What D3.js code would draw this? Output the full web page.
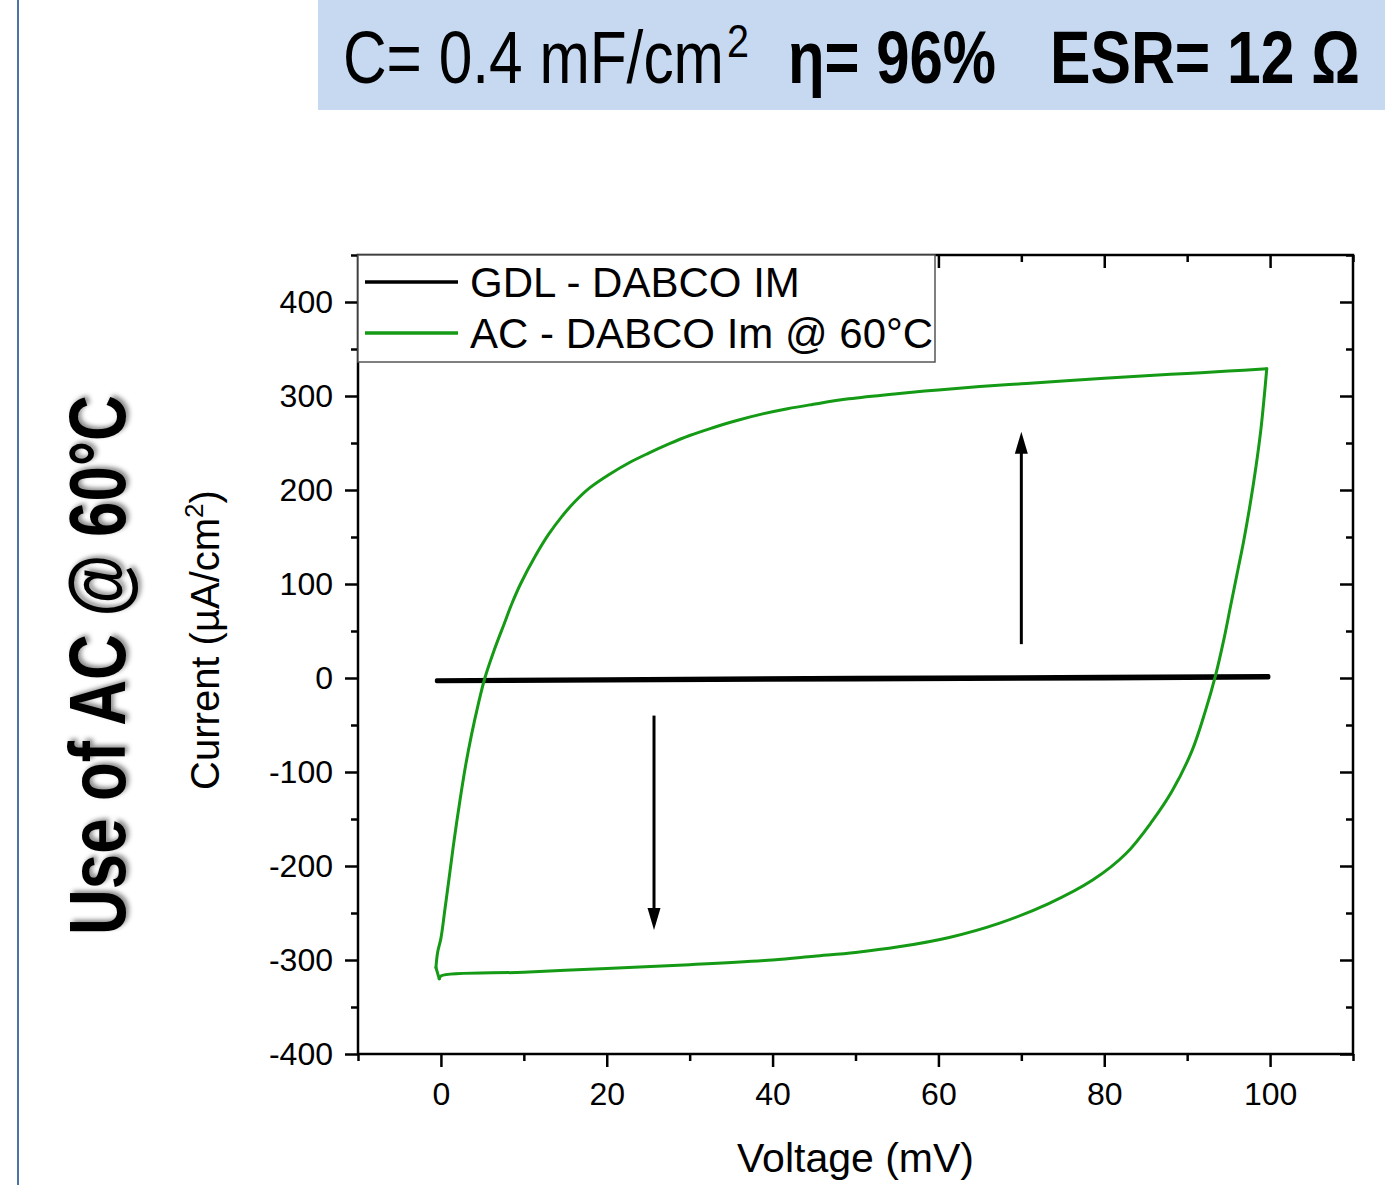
<!DOCTYPE html>
<html>
<head>
<meta charset="utf-8">
<script src="https://cdn.jsdelivr.net/npm/d3@7"></script>
<style>
  html, body { margin: 0; padding: 0; background: #fff; }
  svg { display: block; font-family: "Liberation Sans", Arial, sans-serif; }
</style>
</head>
<body>
<svg id="chart" width="1400" height="1185"></svg>
<script>
// ---------------- data ----------------
// AC - DABCO Im @ 60°C : cyclic voltammogram (voltage mV, current µA/cm²), in scan order
const acVoltage = [-0.2, -0.6, -0.4, 0.0, 0.5, 1.0, 1.6, 2.3, 3.0, 3.7, 4.5, 5.3, 6.4, 7.6, 8.6, 9.6, 11.4, 13.0, 14.6, 16.2, 17.9, 20.2, 22.7, 25.0, 27.5, 30.0, 32.7, 35.7, 38.8, 41.8, 44.8, 49.2, 55, 60, 65, 70, 75, 80, 85, 90, 95, 99.6, 99.3, 98.9, 98.3, 97.6, 96.8, 96.0, 95.2, 94.4, 93.4, 92.2, 90.6, 88.2, 85.8, 82.6, 78.6, 73.3, 67.3, 61.3, 55.2, 50, 45, 40, 30, 20, 10, 0, -0.2];
const acCurrent = [-320, -308, -292, -277, -245, -212, -172, -130, -92, -60, -28, 0, 29, 57, 80, 100, 130, 153, 172, 188, 202, 216, 229, 239, 249, 258, 266, 274, 281, 286.5, 291, 297, 302.5, 306.5, 310, 313, 316, 318.8, 321.5, 324, 326.5, 329, 300, 265, 225, 185, 145, 110, 75, 40, 2, -35, -77, -120, -152, -187, -215, -240, -261, -276, -286, -292, -296, -300, -305, -309, -313, -317, -320];

// GDL - DABCO IM
const gdlVoltage = [-0.5, 20, 50, 80, 99.8, 99.8, 80, 50, 20, -0.5];
const gdlCurrent = [-2.5, -1.2, 0.2, 1.2, 2.2, 0.6, -0.4, -1.6, -2.6, -3.5];

// scan-direction arrows
const arrowVoltage = [70, 25.7];
const arrowFrom = [36, -40];
const arrowTo = [262, -268];

// axes
const xTicks = [0, 20, 40, 60, 80, 100];
const xMinorTicks = [-10, 10, 30, 50, 70, 90, 110];
const yTicks = [-400, -300, -200, -100, 0, 100, 200, 300, 400];
const yMinorTicks = [-350, -250, -150, -50, 50, 150, 250, 350, 450];

const seriesNames = ["GDL - DABCO IM", "AC - DABCO Im @ 60°C"];
const seriesColors = ["#000000", "#159a15"];

// ---------------- drawing ----------------
const svg = d3.select("#chart");
const L = 358, R = 1353, T = 255, B = 1054;
const x = d3.scaleLinear().domain([-10, 110]).range([L, R]);
const y = d3.scaleLinear().domain([-400, 450]).range([B, T]);

// left decorative blue rule
svg.append("line").attr("x1", 18).attr("x2", 18).attr("y1", 0).attr("y2", 1185)
  .attr("stroke", "#4a74a4").attr("stroke-width", 2);

// header box
svg.append("rect").attr("x", 318).attr("y", 0).attr("width", 1067).attr("height", 110)
  .attr("fill", "#c6d9f1");

// condensed text helper: draws text then squeezes it horizontally to a target width
function condensed(parent, x0, y0, width, size, weight, str) {
  const g = parent.append("g").attr("transform", `translate(${x0},${y0})`);
  const t = g.append("text").attr("x", 0).attr("y", 0).attr("font-size", size)
    .attr("font-weight", weight).text(str);
  const w = t.node().getComputedTextLength();
  g.attr("transform", `translate(${x0},${y0}) scale(${width / w},1)`);
  return g;
}
const hdr = svg.append("g").attr("fill", "#000");
condensed(hdr, 343, 83, 381, 74, "normal", "C= 0.4 mF/cm");
condensed(hdr, 727, 57, 22, 46, "normal", "2");
condensed(hdr, 788, 83, 208, 74, "bold", "η= 96%");
condensed(hdr, 1050, 83, 310, 74, "bold", "ESR= 12 Ω");

// side title with shadow
const defs = svg.append("defs");
const f = defs.append("filter").attr("id", "shadow").attr("x", "-10%").attr("y", "-20%")
  .attr("width", "130%").attr("height", "150%");
f.append("feDropShadow").attr("dx", 3).attr("dy", 3).attr("stdDeviation", 2.5)
  .attr("flood-color", "#000").attr("flood-opacity", 0.45);
const sideG = svg.append("g").attr("transform", "translate(125,935) rotate(-90)");
const sideT = sideG.append("text").attr("font-size", 80).attr("font-weight", "bold")
  .attr("filter", "url(#shadow)").text("Use of AC @ 60°C");
const sideW = sideT.node().getComputedTextLength();
sideT.attr("transform", `scale(${540 / sideW},1)`);

// clip for data
defs.append("clipPath").attr("id", "plotclip").append("rect")
  .attr("x", L).attr("y", T).attr("width", R - L).attr("height", B - T);
const plot = svg.append("g").attr("clip-path", "url(#plotclip)");

plot.append("path")
  .datum(gdlVoltage.map((v, i) => [v, gdlCurrent[i]]))
  .attr("d", d3.line().x(d => x(d[0])).y(d => y(d[1])))
  .attr("fill", "none").attr("stroke", seriesColors[0]).attr("stroke-width", 4)
  .attr("stroke-linecap", "round").attr("stroke-linejoin", "round");

// split the loop at the scan reversals (voltage direction changes), smooth each run
const acPts = acVoltage.map((v, i) => [v, acCurrent[i]]);
const runs = [];
let run = [acPts[0]], dirPrev = 0;
for (let i = 1; i < acPts.length; i++) {
  const d = Math.sign(acPts[i][0] - acPts[i - 1][0]);
  if (dirPrev !== 0 && d !== dirPrev) { runs.push(run); run = [acPts[i - 1]]; }
  run.push(acPts[i]); dirPrev = d;
}
runs.push(run);
const smooth = d3.line().x(d => x(d[0])).y(d => y(d[1])).curve(d3.curveCatmullRom.alpha(0.5));
runs.forEach(r => {
  plot.append("path").datum(r).attr("d", smooth)
    .attr("fill", "none").attr("stroke", seriesColors[1]).attr("stroke-width", 3)
    .attr("stroke-linecap", "round").attr("stroke-linejoin", "round");
});

// arrows
arrowVoltage.forEach((v, i) => {
  const ax = x(v), y0 = y(arrowFrom[i]), y1 = y(arrowTo[i]);
  const dir = y1 < y0 ? -1 : 1;
  const headLen = 22, headW = 6.5;
  svg.append("line").attr("x1", ax).attr("x2", ax).attr("y1", y0).attr("y2", y1 - dir * headLen + dir * 2)
    .attr("stroke", "#000").attr("stroke-width", 3);
  svg.append("path")
    .attr("d", `M${ax},${y1} L${ax - headW},${y1 - dir * headLen} L${ax + headW},${y1 - dir * headLen} Z`)
    .attr("fill", "#000");
});

// axes
const fmt = d => String(d);
function styleAxis(g) {
  g.select(".domain").remove();
  g.selectAll(".tick line").attr("stroke", "#000").attr("stroke-width", 2.5);
  g.selectAll("text").attr("fill", "#000").attr("font-size", 32)
    .attr("font-family", "Liberation Sans, Arial, sans-serif");
}
const axisG = svg.append("g");
// bottom
axisG.append("g").attr("transform", `translate(0,${B})`)
  .call(d3.axisBottom(x).tickValues(xTicks).tickSize(13).tickPadding(15).tickFormat(fmt))
  .call(styleAxis);
axisG.append("g").attr("transform", `translate(0,${B})`)
  .call(d3.axisBottom(x).tickValues(xMinorTicks).tickSize(7).tickFormat(""))
  .call(styleAxis);
// top (inward)
axisG.append("g").attr("transform", `translate(0,${T})`)
  .call(d3.axisBottom(x).tickValues(xTicks).tickSize(13).tickFormat(""))
  .call(styleAxis);
axisG.append("g").attr("transform", `translate(0,${T})`)
  .call(d3.axisBottom(x).tickValues(xMinorTicks).tickSize(7).tickFormat(""))
  .call(styleAxis);
// left
axisG.append("g").attr("transform", `translate(${L},0)`)
  .call(d3.axisLeft(y).tickValues(yTicks).tickSize(13).tickPadding(12).tickFormat(fmt))
  .call(styleAxis);
axisG.append("g").attr("transform", `translate(${L},0)`)
  .call(d3.axisLeft(y).tickValues(yMinorTicks).tickSize(7).tickFormat(""))
  .call(styleAxis);
// right (inward)
axisG.append("g").attr("transform", `translate(${R},0)`)
  .call(d3.axisLeft(y).tickValues(yTicks).tickSize(13).tickFormat(""))
  .call(styleAxis);
axisG.append("g").attr("transform", `translate(${R},0)`)
  .call(d3.axisLeft(y).tickValues(yMinorTicks).tickSize(7).tickFormat(""))
  .call(styleAxis);

// frame
svg.append("rect").attr("x", L).attr("y", T).attr("width", R - L).attr("height", B - T)
  .attr("fill", "none").attr("stroke", "#000").attr("stroke-width", 2.5);

// axis titles
svg.append("text").attr("x", (L + R) / 2).attr("y", 1172).attr("text-anchor", "middle")
  .attr("font-size", 41).text("Voltage (mV)");
const yl = svg.append("text").attr("transform", "translate(219,640) rotate(-90)")
  .attr("text-anchor", "middle").attr("font-size", 40);
yl.append("tspan").text("Current (µA/cm");
yl.append("tspan").attr("font-size", 26).attr("dy", -16).text("2");
yl.append("tspan").attr("dy", 16).text(")");

// legend
const lg = svg.append("g");
lg.append("rect").attr("x", L).attr("y", T).attr("width", 935 - L).attr("height", 107)
  .attr("fill", "#fff").attr("stroke", "#555").attr("stroke-width", 1.5);
seriesNames.forEach((name, i) => {
  const ly = 282 + i * 51;
  lg.append("line").attr("x1", 365).attr("x2", 458).attr("y1", ly).attr("y2", ly)
    .attr("stroke", seriesColors[i]).attr("stroke-width", 3.5);
  lg.append("text").attr("x", 470).attr("y", ly + 15).attr("font-size", 42).text(name);
});
</script>
</body>
</html>
